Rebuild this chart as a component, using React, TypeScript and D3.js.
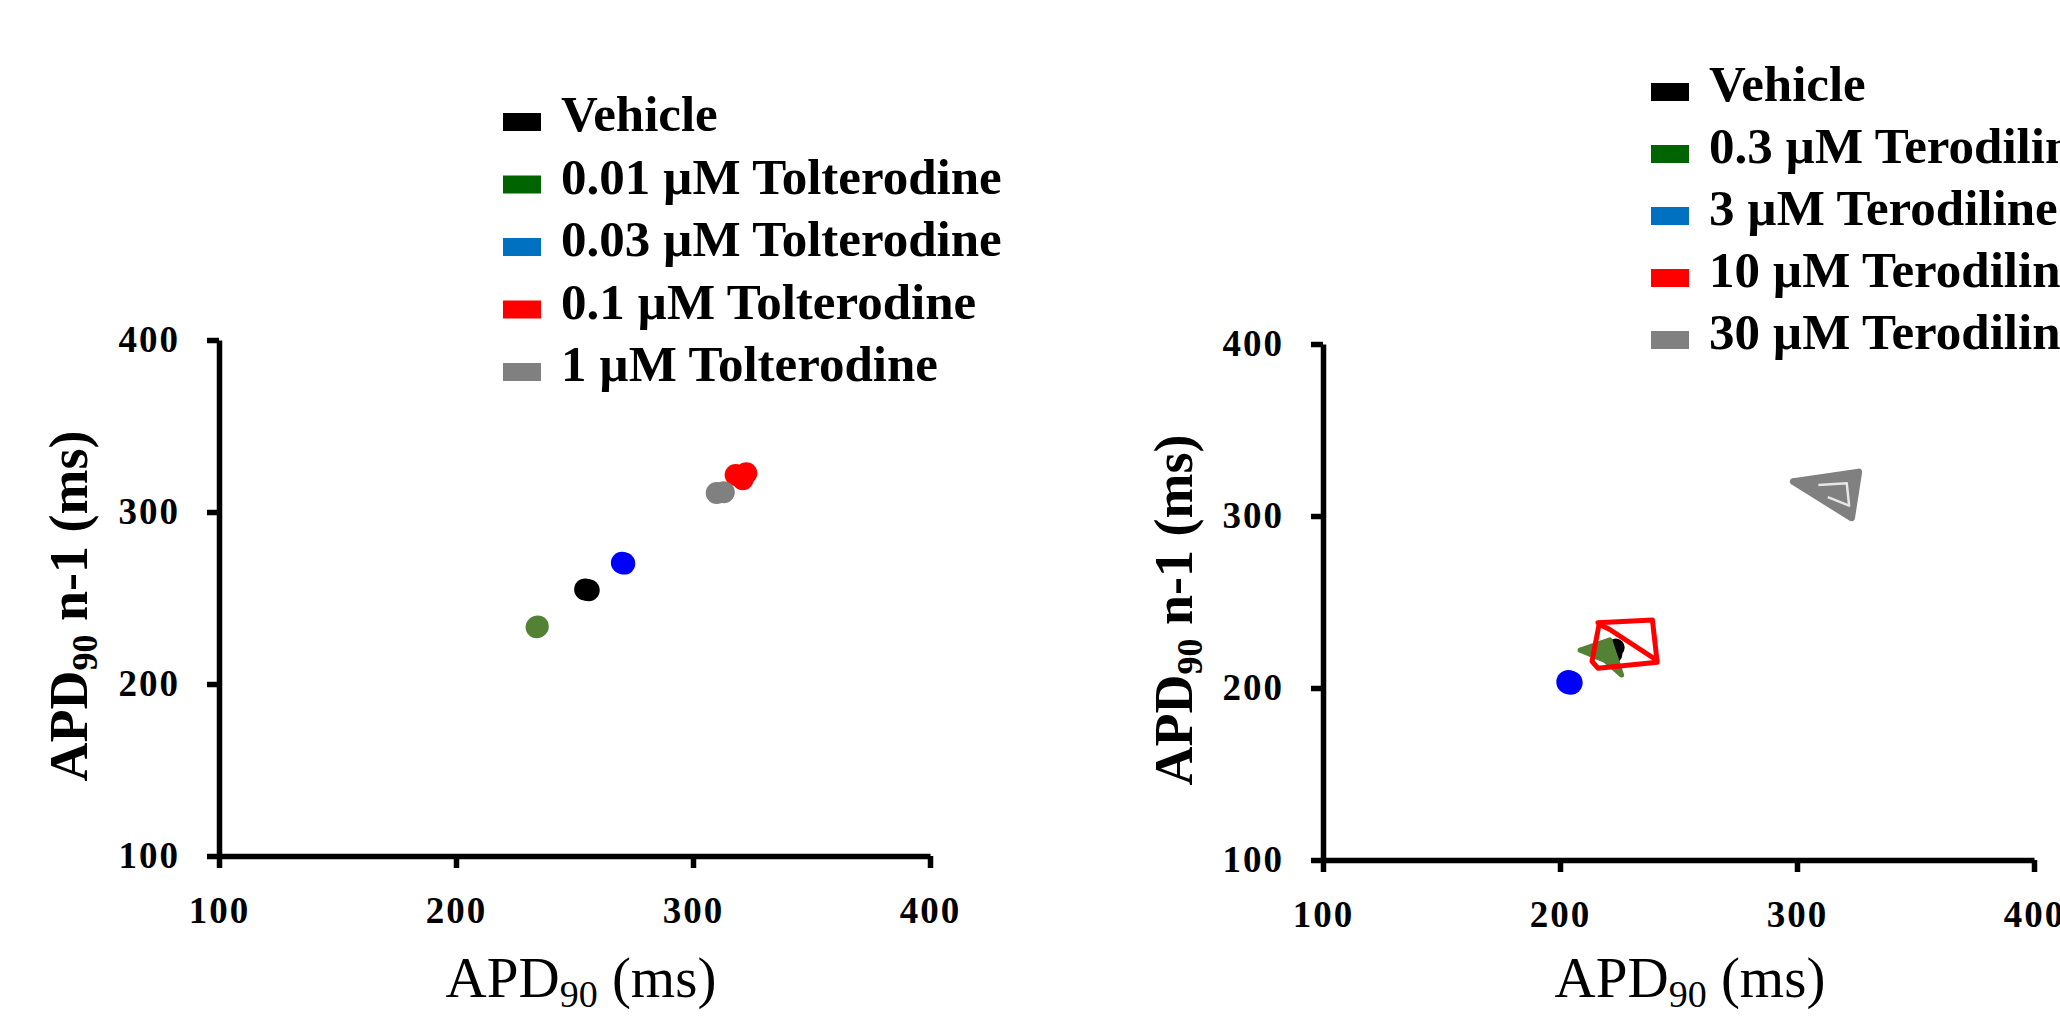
import { useEffect, useRef } from 'react';
import * as d3 from 'd3';

const W = 2060;
const H = 1017;
const FONT = '"Liberation Serif", "Times New Roman", serif';

const axisTicks = [100, 200, 300, 400];

// Left panel: tolterodine, [APD90, APD90 n-1] beats per condition
const tolLabels = ['Vehicle', '0.01 µM Tolterodine', '0.03 µM Tolterodine', '0.1 µM Tolterodine', '1 µM Tolterodine'];
const tolVehicle = [[254.5, 255], [256, 254.5]];
const tol001 = [[234, 233], [234.5, 233.5]];
const tol003 = [[270, 270.5], [271, 270]];
const tol01 = [[318, 321.5], [322.5, 322.5], [321, 319]];
const tol1 = [[310, 311], [313, 311.5]];

// Right panel: terodiline
const terLabels = ['Vehicle', '0.3 µM Terodiline', '3 µM Terodiline', '10 µM Terodiline', '30 µM Terodiline'];
const terVehicle = [[220.5, 221], [223.5, 223.5], [222.5, 219.5], [220, 222]];
const ter03 = [[208.5, 222], [221, 228], [226, 207.5], [219, 216], [208.5, 222]];
const ter3 = [[203.5, 203.5], [204.5, 203]];
const ter10 = [[216, 238], [239, 239.5], [241, 215], [216, 211.5], [213.5, 215.5], [216.5, 237], [221, 234], [241, 216]];
const ter30 = [[298.5, 320], [326, 325.5], [323, 299], [298.5, 320]];
const ter30Inner = [[309, 318], [321, 319], [322, 306], [313, 311]];

const legendColors = ['#000000', '#006400', '#0070C0', '#FF0000', '#808080'];

const tolStyles = [
  { color: '#000000', r: 11, lw: 4, fill: false },
  { color: '#548235', r: 11, lw: 4, fill: false },
  { color: '#0000FF', r: 11, lw: 4, fill: false },
  { color: '#FF0000', r: 11, lw: 4, fill: false },
  { color: '#808080', r: 11, lw: 4, fill: false },
];
const terStyles = [
  { color: '#000000', r: 9, lw: 4, fill: false },
  { color: '#548235', r: 0, lw: 5, fill: true },
  { color: '#0000FF', r: 12, lw: 4, fill: false },
  { color: '#FF0000', r: 0, lw: 5, fill: false },
  { color: '#808080', r: 0, lw: 7, fill: true },
];

function Panel({ xRange, yRange, series, styles, labels, legendX, legendBase, legendStep, yTitleX, xTitleX, extra }) {
  const xRef = useRef(null);
  const yRef = useRef(null);
  const x = d3.scaleLinear().domain([100, 400]).range(xRange);
  const y = d3.scaleLinear().domain([100, 400]).range(yRange);

  useEffect(() => {
    const gx = d3.select(xRef.current);
    gx.selectAll('*').remove();
    gx.call(d3.axisBottom(x).tickValues(axisTicks).tickSize(12).tickSizeOuter(0).tickPadding(29).tickFormat(d3.format('d')));
    const gy = d3.select(yRef.current);
    gy.selectAll('*').remove();
    gy.call(d3.axisLeft(y).tickValues(axisTicks).tickSize(12).tickSizeOuter(0).tickPadding(27).tickFormat(d3.format('d')));
    [gx, gy].forEach(g => {
      g.attr('font-family', FONT).attr('font-size', 37).attr('font-weight', 'bold');
      g.select('.domain').attr('stroke', '#000').attr('stroke-width', 5.5);
      g.selectAll('.tick line').attr('stroke', '#000').attr('stroke-width', 5.5);
      g.selectAll('.tick text').attr('fill', '#000').attr('letter-spacing', 2);
    });
  }, []);

  const line = d3.line().x(d => x(d[0])).y(d => y(d[1]));

  return (
    <g>
      {/* legend */}
      {labels.map((lab, i) => (
        <g key={lab}>
          <rect x={legendX} y={legendBase + i * legendStep - 18} width={38} height={18} fill={legendColors[i]} />
          <text x={legendX + 58} y={legendBase + i * legendStep} fontFamily={FONT} fontSize={51} fontWeight="bold">{lab}</text>
        </g>
      ))}

      {/* data */}
      {series.map((pts, i) => {
        const s = styles[i];
        return (
          <g key={i}>
            <path d={line(pts)} fill={s.fill ? s.color : 'none'} stroke={s.color} strokeWidth={s.lw} strokeLinejoin="round" strokeLinecap="round" />
            {s.r > 0 && pts.map((p, j) => (
              <circle key={j} cx={x(p[0])} cy={y(p[1])} r={s.r} fill={s.color} />
            ))}
          </g>
        );
      })}
      {extra && (
        <path d={line(extra)} fill="none" stroke="#fff" strokeWidth={2.5} strokeLinejoin="round" opacity={0.8} />
      )}

      <g ref={xRef} transform={`translate(0,${yRange[0]})`} />
      <g ref={yRef} transform={`translate(${xRange[0]},0)`} />

      {/* axis titles */}
      <text transform={`translate(${yTitleX},${(yRange[0] + yRange[1]) / 2 + 8}) rotate(-90)`} textAnchor="middle" fontFamily={FONT} fontSize={54} fontWeight="bold">
        APD<tspan dy={10} fontSize={36}>90</tspan><tspan dy={-10}> n-1 (ms)</tspan>
      </text>
      <text x={xTitleX} y={997} textAnchor="middle" fontFamily={FONT} fontSize={57}>
        APD<tspan dy={10} fontSize={38}>90</tspan><tspan dy={-10}> (ms)</tspan>
      </text>
    </g>
  );
}

export default function App() {
  return (
    <svg width={W} height={H} style={{ position: 'absolute', left: 0, top: 0, background: '#fff' }}>
      <rect width={W} height={H} fill="#fff" />
      <Panel
        xRange={[219, 930]} yRange={[856, 340]}
        series={[tolVehicle, tol001, tol003, tol01, tol1]} styles={tolStyles} labels={tolLabels}
        legendX={503} legendBase={131} legendStep={62.5} yTitleX={87} xTitleX={581}
      />
      <Panel
        xRange={[1323, 2034]} yRange={[860, 344]}
        series={[terVehicle, ter03, ter3, ter10, ter30]} styles={terStyles} labels={terLabels}
        legendX={1651} legendBase={101} legendStep={62} yTitleX={1192} xTitleX={1690}
        extra={ter30Inner}
      />
    </svg>
  );
}
